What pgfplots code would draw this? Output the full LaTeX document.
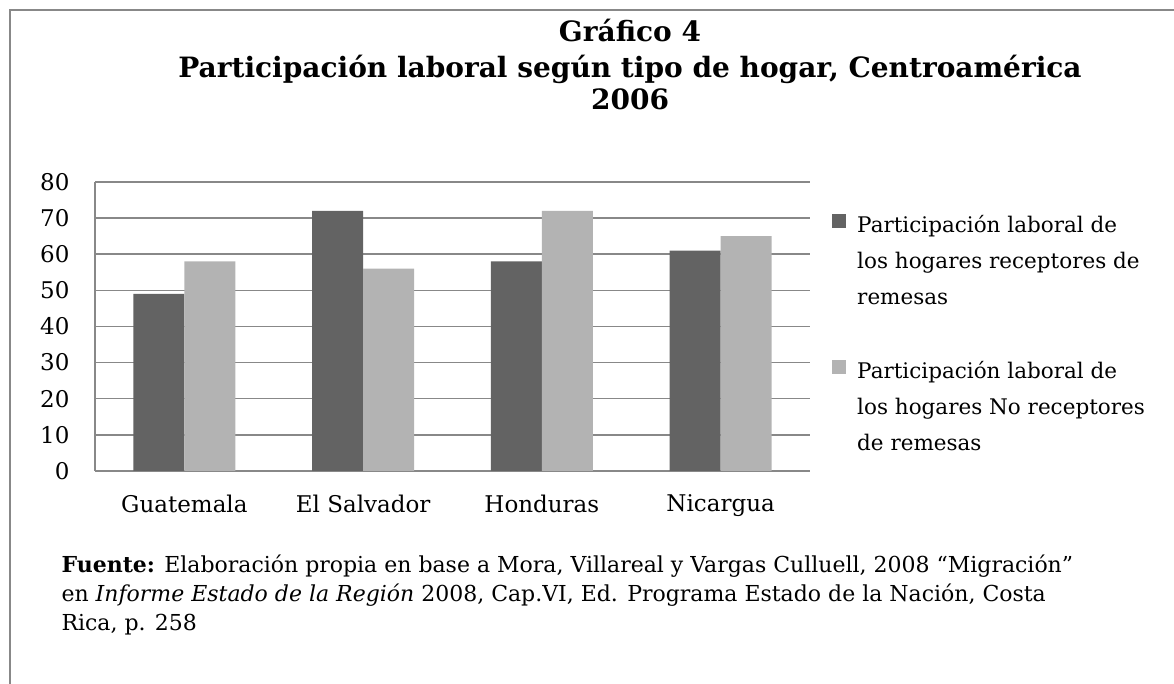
\documentclass[border=0pt]{standalone}
\usepackage{fontspec}
\setmainfont{DejaVu Serif}
\usepackage{pgfplots}
\pgfplotsset{compat=1.18}

\definecolor{darkbar}{HTML}{636363}
\definecolor{lightbar}{HTML}{B3B3B3}
\definecolor{gridgray}{HTML}{888888}

\begin{document}
\begin{tikzpicture}
\useasboundingbox (0pt,0pt) rectangle (1174pt,684pt);
% outer frame (only left and top edges are visible)
\draw[gridgray, line width=1.5pt] (10pt,-5pt) -- (10pt,674pt) -- (1180pt,674pt);

% title
\node[anchor=base, font=\fontsize{28}{32}\selectfont\bfseries] at (630pt,642pt) {Gráfico 4};
\node[anchor=base, font=\fontsize{28}{32}\selectfont\bfseries] at (630pt,606pt) {Participación laboral según tipo de hogar, Centroamérica};
\node[anchor=base, font=\fontsize{28}{32}\selectfont\bfseries] at (630pt,574pt) {2006};

\begin{axis}[
  at={(95pt,213pt)}, anchor=south west,
  scale only axis, width=715pt, height=289pt,
  ybar=0pt, bar width=51pt,
  xmin=-0.5, xmax=3.5, ymin=0, ymax=80,
  xtick={0,1,2,3},
  xticklabels={Guatemala,El Salvador,Honduras,Nicargua},
  ytick={0,10,...,80},
  axis x line*=bottom, axis y line*=left,
  axis line style={gridgray, line width=1.5pt},
  ymajorgrids, grid style={gridgray, line width=1.5pt},
  major tick length=0pt,
  tick label style={font=\fontsize{23}{27}\selectfont},
  /pgf/number format/assume math mode=true,
  yticklabel style={xshift=-22pt},
  xticklabel style={yshift=-20pt},
  legend style={draw=none, fill=none, inner sep=0pt,
    at={(axis description cs:1.0308,0.893)}, anchor=north west,
    cells={anchor=base west, inner sep=0pt},
    column sep=9pt, row sep=123pt},
  legend image code/.code={\fill[#1] (0pt,4pt) rectangle (14pt,18pt);},
]
\addplot[fill=darkbar, draw=none] coordinates {(0,49) (1,72) (2,58) (3,61)};
\addlegendentry{\parbox[t]{320pt}{\fontsize{21.5}{36}\selectfont Participación laboral de\\los hogares receptores de\\remesas}}
\addplot[fill=lightbar, draw=none] coordinates {(0,58) (1,56) (2,72) (3,65)};
\addlegendentry{\parbox[t]{320pt}{\fontsize{21.5}{36}\selectfont Participación laboral de\\los hogares No receptores\\de remesas}}
\end{axis}

% source note
\node[anchor=base west, font=\fontsize{22}{29}\selectfont] at (58pt,111pt) {\textbf{Fuente:} Elaboración propia en base a Mora, Villareal y Vargas Culluell, 2008 “Migración”};
\node[anchor=base west, font=\fontsize{22}{29}\selectfont] at (58pt,82pt) {en \textit{Informe Estado de la Región} 2008, Cap.VI, Ed. Programa Estado de la Nación, Costa};
\node[anchor=base west, font=\fontsize{22}{29}\selectfont] at (58pt,53pt) {Rica, p. 258};
\end{tikzpicture}
\end{document}
